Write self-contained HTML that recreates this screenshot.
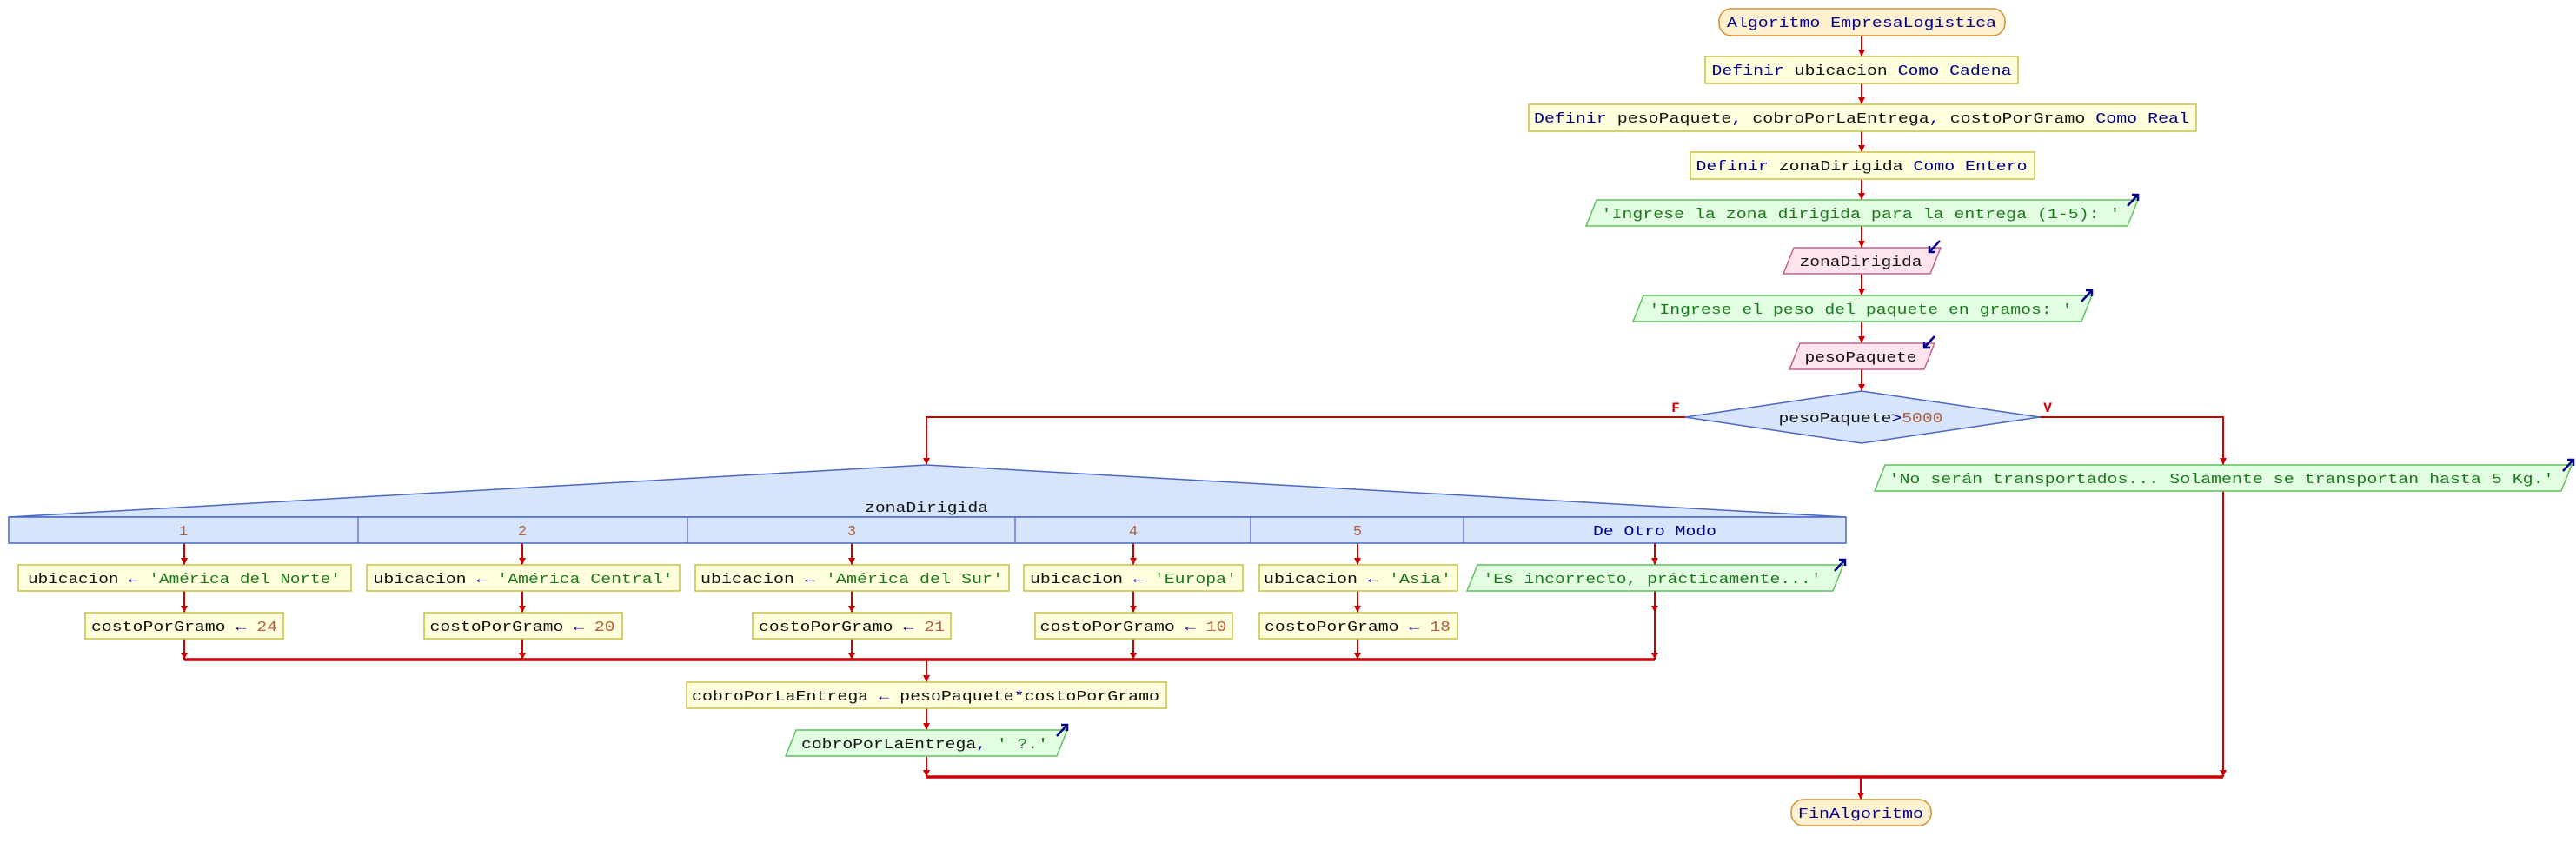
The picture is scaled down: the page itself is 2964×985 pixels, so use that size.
<!DOCTYPE html>
<html><head><meta charset="utf-8"><style>
html,body{margin:0;padding:0;background:#fff;}
svg{display:block;}
text{font-family:"Liberation Mono","DejaVu Sans Mono",monospace;font-size:17px;fill:#111;}
.k{fill:#00008b}.s{fill:#1a7a1a}.n{fill:#b0603a}
.p{fill:#ffffdd;stroke:#c8c040;stroke-width:1.5}
.io{fill:#e2fde2;stroke:#60c060;stroke-width:1.5}
.in{fill:#ffe4ee;stroke:#c06090;stroke-width:1.5}
.d{fill:#d6e4fc;stroke:#4a66c4;stroke-width:1.5}
.t{fill:#fff0d0;stroke:#d09030;stroke-width:1.5}
.l{stroke:#cc0000;stroke-width:2;fill:none}
.L{stroke:#cc0000;stroke-width:3.5;fill:none}
.ic{stroke:#00008b;stroke-width:2.5;fill:none}
</style></head><body>
<svg width="2964" height="985" viewBox="0 0 2964 985" xmlns="http://www.w3.org/2000/svg">
<defs>
<marker id="a" markerWidth="10" markerHeight="10" refX="5" refY="9" orient="auto" markerUnits="userSpaceOnUse" viewBox="0 0 10 10">
</marker>
</defs>
<g id="lines">
<path class="l" d="M2142 41V65M2142 96V120M2142 151V175M2142 206V230M2142 260V285M2142 315V340M2142 370V395M2142 425V450"/>
<path class="l" d="M1939 480H1066V535M2347 480H2558V535M2558 565V894"/>
<path class="l" d="M212 625V650M601 625V650M980 625V650M1304 625V650M1562 625V650M1904 625V650"/>
<path class="l" d="M212 680V705M601 680V705M980 680V705M1304 680V705M1562 680V705M1904 680V759"/>
<path class="l" d="M212 735V759M601 735V759M980 735V759M1304 735V759M1562 735V759"/>
<path class="L" d="M212 759H1904"/>
<path class="l" d="M1066 759V785M1066 815V840M1066 870V894"/>
<path class="L" d="M1066 894H2558"/>
<path class="l" d="M2141 894V920"/>
</g>
<g fill="#cc0000">
<path d="M2138 57h8l-4 8z M2138 112h8l-4 8z M2138 167h8l-4 8z M2138 222h8l-4 8z M2138 277h8l-4 8z M2138 332h8l-4 8z M2138 387h8l-4 8z M2138 442h8l-4 8z"/>
<path d="M1062 527h8l-4 8z M2554 527h8l-4 8z"/>
<path d="M208 642h8l-4 8z M597 642h8l-4 8z M976 642h8l-4 8z M1300 642h8l-4 8z M1558 642h8l-4 8z M1900 642h8l-4 8z"/>
<path d="M208 697h8l-4 8z M597 697h8l-4 8z M976 697h8l-4 8z M1300 697h8l-4 8z M1558 697h8l-4 8z M1900 697h8l-4 8z"/>
<path d="M208 751h8l-4 8z M597 751h8l-4 8z M976 751h8l-4 8z M1300 751h8l-4 8z M1558 751h8l-4 8z M1900 751h8l-4 8z"/>
<path d="M1062 777h8l-4 8z M1062 832h8l-4 8z M1062 886h8l-4 8z M2554 886h8l-4 8z M2137 912h8l-4 8z"/>
</g>

<!-- start -->
<rect class="t" x="1978" y="10" width="329" height="31" rx="14"/>
<text x="2142" y="31" text-anchor="middle" textLength="310" lengthAdjust="spacingAndGlyphs" class="k">Algoritmo EmpresaLogistica</text>

<rect class="p" x="1962" y="65" width="360" height="31"/>
<text x="2142" y="86" text-anchor="middle" textLength="345" lengthAdjust="spacingAndGlyphs"><tspan class="k">Definir</tspan> ubicacion <tspan class="k">Como Cadena</tspan></text>

<rect class="p" x="1759" y="120" width="768" height="31"/>
<text x="2142" y="141" text-anchor="middle" textLength="754" lengthAdjust="spacingAndGlyphs"><tspan class="k">Definir</tspan> pesoPaquete<tspan class="k">,</tspan> cobroPorLaEntrega<tspan class="k">,</tspan> costoPorGramo <tspan class="k">Como Real</tspan></text>

<rect class="p" x="1945" y="175" width="396" height="31"/>
<text x="2142" y="196" text-anchor="middle" textLength="381" lengthAdjust="spacingAndGlyphs"><tspan class="k">Definir</tspan> zonaDirigida <tspan class="k">Como Entero</tspan></text>

<path class="io" d="M1837 230H2460L2448 260H1825Z"/>
<text x="2141" y="251" text-anchor="middle" textLength="597" lengthAdjust="spacingAndGlyphs" class="s">'Ingrese la zona dirigida para la entrega (1-5): '</text>
<path class="ic" d="M2448 237L2460 224M2453 224H2460V231"/>

<path class="in" d="M2064 285H2233L2221 315H2052Z"/>
<text x="2141" y="306" text-anchor="middle" textLength="141" lengthAdjust="spacingAndGlyphs">zonaDirigida</text>
<path class="ic" d="M2232 277L2220 290M2220 283V290H2227"/>

<path class="io" d="M1891 340H2407L2395 370H1879Z"/>
<text x="2141" y="361" text-anchor="middle" textLength="487" lengthAdjust="spacingAndGlyphs" class="s">'Ingrese el peso del paquete en gramos: '</text>
<path class="ic" d="M2395 347L2407 334M2400 334H2407V341"/>

<path class="in" d="M2071 395H2226L2214 425H2059Z"/>
<text x="2141" y="416" text-anchor="middle" textLength="129" lengthAdjust="spacingAndGlyphs">pesoPaquete</text>
<path class="ic" d="M2226 387L2214 400M2214 393V400H2221"/>

<path class="d" d="M2142 450L2347 480L2142 510L1939 480Z"/>
<text x="2141" y="486" text-anchor="middle" textLength="189" lengthAdjust="spacingAndGlyphs">pesoPaquete<tspan class="k">&gt;</tspan><tspan class="n">5000</tspan></text>
<text x="1928" y="474" text-anchor="middle" style="fill:#cc0000;font-weight:bold;font-size:16px">F</text>
<text x="2356" y="474" text-anchor="middle" style="fill:#cc0000;font-weight:bold;font-size:16px">V</text>

<!-- right branch output -->
<path class="io" d="M2169 535H2959L2947 565H2157Z"/>
<text x="2556" y="556" text-anchor="middle" textLength="765" lengthAdjust="spacingAndGlyphs" class="s">'No serán transportados... Solamente se transportan hasta 5 Kg.'</text>
<path class="ic" d="M2949 542L2961 529M2954 529H2961V536"/>

<!-- switch -->
<path class="d" d="M1066 535L2124 595H10Z"/>
<rect class="d" x="10" y="595" width="2114" height="30"/>
<path stroke="#4a66c4" stroke-width="1.2" d="M412 595V625M791 595V625M1168 595V625M1439 595V625M1684 595V625"/>
<text x="1066" y="589" text-anchor="middle" textLength="142" lengthAdjust="spacingAndGlyphs">zonaDirigida</text>
<text x="211" y="616" text-anchor="middle" class="n">1</text>
<text x="601" y="616" text-anchor="middle" class="n">2</text>
<text x="980" y="616" text-anchor="middle" class="n">3</text>
<text x="1304" y="616" text-anchor="middle" class="n">4</text>
<text x="1562" y="616" text-anchor="middle" class="n">5</text>
<text x="1904" y="616" text-anchor="middle" textLength="142" lengthAdjust="spacingAndGlyphs" class="k">De Otro Modo</text>

<rect class="p" x="21" y="650" width="383" height="30"/>
<text x="212" y="671" text-anchor="middle" textLength="360" lengthAdjust="spacingAndGlyphs">ubicacion <tspan class="k">←</tspan> <tspan class="s">'América del Norte'</tspan></text>
<rect class="p" x="422" y="650" width="360" height="30"/>
<text x="602" y="671" text-anchor="middle" textLength="345" lengthAdjust="spacingAndGlyphs">ubicacion <tspan class="k">←</tspan> <tspan class="s">'América Central'</tspan></text>
<rect class="p" x="800" y="650" width="361" height="30"/>
<text x="980" y="671" text-anchor="middle" textLength="348" lengthAdjust="spacingAndGlyphs">ubicacion <tspan class="k">←</tspan> <tspan class="s">'América del Sur'</tspan></text>
<rect class="p" x="1178" y="650" width="252" height="30"/>
<text x="1304" y="671" text-anchor="middle" textLength="238" lengthAdjust="spacingAndGlyphs">ubicacion <tspan class="k">←</tspan> <tspan class="s">'Europa'</tspan></text>
<rect class="p" x="1449" y="650" width="228" height="30"/>
<text x="1562" y="671" text-anchor="middle" textLength="216" lengthAdjust="spacingAndGlyphs">ubicacion <tspan class="k">←</tspan> <tspan class="s">'Asia'</tspan></text>
<path class="io" d="M1700 650H2121L2109 680H1688Z"/>
<text x="1901" y="671" text-anchor="middle" textLength="389" lengthAdjust="spacingAndGlyphs" class="s">'Es incorrecto, prácticamente...'</text>
<path class="ic" d="M2111 657L2123 644M2116 644H2123V651"/>

<rect class="p" x="98" y="705" width="228" height="30"/>
<text x="212" y="726" text-anchor="middle" textLength="214" lengthAdjust="spacingAndGlyphs">costoPorGramo <tspan class="k">←</tspan> <tspan class="n">24</tspan></text>
<rect class="p" x="488" y="705" width="228" height="30"/>
<text x="601" y="726" text-anchor="middle" textLength="213" lengthAdjust="spacingAndGlyphs">costoPorGramo <tspan class="k">←</tspan> <tspan class="n">20</tspan></text>
<rect class="p" x="866" y="705" width="228" height="30"/>
<text x="980" y="726" text-anchor="middle" textLength="214" lengthAdjust="spacingAndGlyphs">costoPorGramo <tspan class="k">←</tspan> <tspan class="n">21</tspan></text>
<rect class="p" x="1191" y="705" width="227" height="30"/>
<text x="1304" y="726" text-anchor="middle" textLength="215" lengthAdjust="spacingAndGlyphs">costoPorGramo <tspan class="k">←</tspan> <tspan class="n">10</tspan></text>
<rect class="p" x="1449" y="705" width="228" height="30"/>
<text x="1562" y="726" text-anchor="middle" textLength="214" lengthAdjust="spacingAndGlyphs">costoPorGramo <tspan class="k">←</tspan> <tspan class="n">18</tspan></text>

<rect class="p" x="790" y="785" width="552" height="30"/>
<text x="1065" y="806" text-anchor="middle" textLength="538" lengthAdjust="spacingAndGlyphs">cobroPorLaEntrega <tspan class="k">←</tspan> pesoPaquete<tspan class="k">*</tspan>costoPorGramo</text>

<path class="io" d="M916 840H1228L1216 870H904Z"/>
<text x="1064" y="861" text-anchor="middle" textLength="284" lengthAdjust="spacingAndGlyphs">cobroPorLaEntrega<tspan class="k">,</tspan> <tspan class="s">' ?.'</tspan></text>
<path class="ic" d="M1216 847L1228 834M1221 834H1228V841"/>

<rect class="t" x="2061" y="920" width="161" height="30" rx="14"/>
<text x="2141" y="941" text-anchor="middle" textLength="144" lengthAdjust="spacingAndGlyphs" class="k">FinAlgoritmo</text>
</svg>
</body></html>
